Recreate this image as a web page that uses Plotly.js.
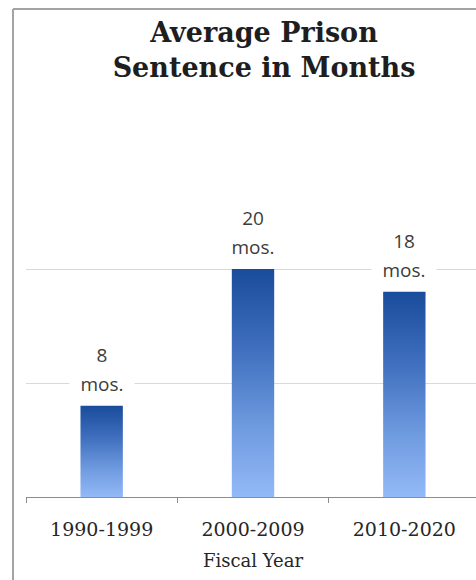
<!DOCTYPE html>
<html>
<head>
<meta charset="utf-8">
<script src="https://cdn.plot.ly/plotly-3.0.1.min.js"></script>
<style>
  html, body { margin: 0; padding: 0; background: #ffffff; overflow: hidden; }
  #chart { width: 500px; height: 580px; }
</style>
</head>
<body>
<div id="chart"></div>
<script>
// Fiscal-year periods and average sentence length (months)
const periods = ["1990-1999", "2000-2009", "2010-2020"];
const avgMonths = [8, 20, 18];
const unitLabel = "mos.";

const labelFont = { family: "Open Sans, sans-serif", size: 19, color: "#3c3c3c" };

// Two-line value labels above each bar: the number, then the unit
const annotations = [];
periods.forEach((p, i) => {
  annotations.push({
    x: p, y: avgMonths[i], xref: "x", yref: "y",
    text: String(avgMonths[i]), showarrow: false,
    yanchor: "bottom", yshift: 36, font: labelFont,
    bgcolor: "#ffffff", width: 40, borderpad: 1
  });
  annotations.push({
    x: p, y: avgMonths[i], xref: "x", yref: "y",
    text: unitLabel, showarrow: false,
    yanchor: "bottom", yshift: 7, font: labelFont,
    bgcolor: "#ffffff", width: 62, borderpad: 1
  });
});

const trace = {
  type: "bar",
  x: periods,
  y: avgMonths,
  width: 0.28,
  marker: { color: "#4a78c4", line: { width: 0 } },
  hoverinfo: "skip"
};

const frameLine = { color: "#a3a3a3", width: 2 };

const layout = {
  width: 500,
  height: 580,
  margin: { l: 26, r: 19.5, t: 155, b: 83 },
  paper_bgcolor: "#ffffff",
  plot_bgcolor: "#ffffff",
  showlegend: false,
  title: {
    text: "Average Prison<br>Sentence in Months",
    font: { family: "DejaVu Serif, serif", size: 27, weight: "bold", color: "#1e1e1e" },
    xref: "container", x: 0.528, xanchor: "center",
    yref: "container", y: 0.928, yanchor: "top"
  },
  xaxis: {
    type: "category",
    range: [-0.5, 2.5],
    tickson: "boundaries",
    ticks: "outside", ticklen: 5, tickwidth: 1, tickcolor: "#8c8c8c",
    showline: true, linecolor: "#8c8c8c", linewidth: 1,
    showgrid: false, zeroline: false,
    ticklabelstandoff: 15,
    tickfont: { family: "DejaVu Serif, serif", size: 19, color: "#262626" },
    title: {
      text: "Fiscal Year",
      font: { family: "DejaVu Serif, serif", size: 18, color: "#262626" },
      standoff: 15
    }
  },
  yaxis: {
    range: [0, 30],
    dtick: 10,
    showgrid: true, gridcolor: "#d9d9d9", gridwidth: 1,
    showticklabels: false, ticks: "",
    showline: false, zeroline: false
  },
  annotations: annotations,
  shapes: [
    // chart frame: left and top edges
    { type: "line", xref: "paper", yref: "paper",
      x0: -0.0286, x1: -0.0286, y0: -1, y1: 1.4269, line: frameLine, layer: "below" },
    { type: "line", xref: "paper", yref: "paper",
      x0: -0.0286, x1: 2, y0: 1.4269, y1: 1.4269, line: frameLine, layer: "below" }
  ]
};

Plotly.newPlot("chart", [trace], layout, { staticPlot: true, displayModeBar: false })
  .then(gd => {
    // vertical dark-to-light fill on every bar
    const svgNS = "http://www.w3.org/2000/svg";
    const svg = gd.querySelector("svg.main-svg");
    let defs = svg.querySelector("defs");
    if (!defs) { defs = document.createElementNS(svgNS, "defs"); svg.insertBefore(defs, svg.firstChild); }
    const grad = document.createElementNS(svgNS, "linearGradient");
    grad.setAttribute("id", "barFade");
    grad.setAttribute("x1", "0"); grad.setAttribute("y1", "0");
    grad.setAttribute("x2", "0"); grad.setAttribute("y2", "1");
    [["0", "#1a4c9c"], ["0.35", "#3f6fbe"], ["0.7", "#6f9be0"], ["1", "#93b9f7"]].forEach(([o, c]) => {
      const s = document.createElementNS(svgNS, "stop");
      s.setAttribute("offset", o); s.setAttribute("stop-color", c);
      grad.appendChild(s);
    });
    defs.appendChild(grad);
    gd.querySelectorAll(".trace.bars .point path").forEach(p => {
      p.style.fill = "url(#barFade)";
    });
  });
</script>
</body>
</html>
